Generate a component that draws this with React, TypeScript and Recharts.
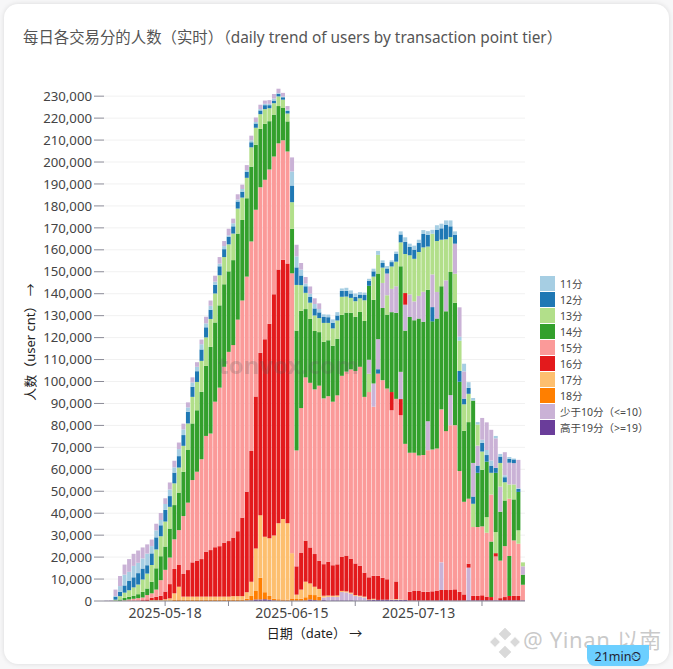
import { Bar, BarChart, CartesianGrid, Cell, Label, XAxis, YAxis } from "recharts";

const FONT = '"Noto Sans", "Noto Sans CJK SC", sans-serif';

const dates = [
  "2025-05-05", "2025-05-06", "2025-05-07", "2025-05-08", "2025-05-09", "2025-05-10", "2025-05-11", "2025-05-12", "2025-05-13", "2025-05-14",
  "2025-05-15", "2025-05-16", "2025-05-17", "2025-05-18", "2025-05-19", "2025-05-20", "2025-05-21", "2025-05-22", "2025-05-23", "2025-05-24",
  "2025-05-25", "2025-05-26", "2025-05-27", "2025-05-28", "2025-05-29", "2025-05-30", "2025-05-31", "2025-06-01", "2025-06-02", "2025-06-03",
  "2025-06-04", "2025-06-05", "2025-06-06", "2025-06-07", "2025-06-08", "2025-06-09", "2025-06-10", "2025-06-11", "2025-06-12", "2025-06-13",
  "2025-06-14", "2025-06-15", "2025-06-16", "2025-06-17", "2025-06-18", "2025-06-19", "2025-06-20", "2025-06-21", "2025-06-22", "2025-06-23",
  "2025-06-24", "2025-06-25", "2025-06-26", "2025-06-27", "2025-06-28", "2025-06-29", "2025-06-30", "2025-07-01", "2025-07-02", "2025-07-03",
  "2025-07-04", "2025-07-05", "2025-07-06", "2025-07-07", "2025-07-08", "2025-07-09", "2025-07-10", "2025-07-11", "2025-07-12", "2025-07-13",
  "2025-07-14", "2025-07-15", "2025-07-16", "2025-07-17", "2025-07-18", "2025-07-19", "2025-07-20", "2025-07-21", "2025-07-22", "2025-07-23",
  "2025-07-24", "2025-07-25", "2025-07-26", "2025-07-27", "2025-07-28", "2025-07-29", "2025-07-30", "2025-07-31", "2025-08-01", "2025-08-02",
  "2025-08-03", "2025-08-04", "2025-08-05",
];

// users per day, in thousands
const low = [
  0.2, 0.3, 2.9, 4.6, 4.6, 5.8, 5.5, 5.6, 5, 4.2,
  3, 3, 3.2, 2.6, 3.2, 3, 3, 2.6, 2.3, 2.3,
  2.1, 2.1, 3, 2.4, 2.7, 3, 2.3, 3, 2.1, 2.4,
  2, 2.3, 2.1, 2.1, 2, 1.5, 1.7, 2.1, 2, 1.7,
  1.7, 6.4, 5.3, 3, 3, 3.3, 2.6, 2.6, 1.2, 1.7,
  1.6, 1.6, 3.8, 3.6, 3, 2.1, 1.9, 1.5, 6.4, 10.6,
  13.7, 11.4, 9.9, 10.6, 12.1, 12.4, 11.8, 10.3, 8.6, 10.3,
  13.7, 13.2, 14.9, 12.1, 12.6, 14.1, 13.7, 13.7, 13.4, 12.4,
  14.9, 15.3, 9.1, 9.9, 12.6, 14, 13.4, 11.4, 10.5, 9.9,
  9.7, 12.9, 3.8,
];
const t11 = [
  0, 0, 0.3, 2.6, 4.9, 4.2, 5.2, 4.7, 4.6, 5.3,
  3.3, 3.2, 2.4, 2.7, 3, 2.4, 3.2, 2.6, 2, 2,
  2, 2.4, 1.8, 1.8, 1.5, 1.2, 1.4, 0.6, 1.4, 0.9,
  1.2, 0.8, 0.9, 0.6, 0.6, 0.6, 0.6, 0.9, 0.3, 0.3,
  0.5, 6.4, 5, 2.7, 1.2, 1.5, 2, 1.5, 1.2, 1.2,
  1.5, 1.5, 1.1, 1.4, 1.4, 1.5, 1.1, 1.1, 0.9, 1.2,
  1.8, 1.2, 1.1, 0.8, 1.1, 1.4, 2.1, 1.5, 1.8, 1.5,
  1.8, 1.7, 1.8, 2, 2.1, 2.1, 2.7, 1.5, 1.8, 3.5,
  2.6, 1.2, 1.1, 1.5, 2.3, 2.3, 1.1, 1.2, 0.9, 0.8,
  0.4, 0.3, 0,
];
const t12 = [
  0, 0, 1.4, 2, 3.3, 4.2, 4.6, 5.2, 5, 3.8,
  5.3, 5.5, 5, 5.3, 4.9, 4.9, 5.2, 4.9, 5.3, 4.6,
  4.9, 5.2, 4.6, 4.2, 3.9, 4.1, 3.6, 3.5, 3.3, 3.2,
  2.7, 2.7, 2.3, 2, 1.7, 1.8, 1.4, 1.2, 1.2, 1.1,
  1.2, 7.6, 8, 4.4, 3, 2.6, 3.2, 2.6, 2.7, 2.6,
  2.6, 2.3, 2.7, 2.6, 2, 2, 1.7, 2.4, 2.3, 2.4,
  2, 2.1, 2.3, 2, 3.5, 3.6, 5.5, 3.8, 4.2, 4.1,
  6.1, 5.3, 6.5, 5.2, 5.2, 6.5, 4.9, 4.1, 4.9, 2.6,
  2.7, 3.3, 3.3, 3.9, 3, 3.3, 2.3, 2.9, 2.3, 1.8,
  1.7, 1.4, 0,
];
const t13 = [
  0, 0, 0.4, 1.5, 2.4, 3, 3.8, 4.4, 5.6, 6.8,
  7.6, 8.6, 9.1, 11.4, 9.9, 9.9, 11.4, 11.8, 12.1, 12.1,
  12.9, 14.1, 13, 12.7, 13.2, 13.7, 12.4, 12.3, 12.1, 11.4,
  10.2, 9.3, 8.8, 7.7, 6.7, 6.7, 5.9, 5.2, 4.4, 3.8,
  3.6, 12.1, 20.8, 11.7, 7.4, 7.4, 7.1, 6.4, 8.6, 7.9,
  7.9, 8.3, 8.2, 7.3, 6.8, 7.1, 6.2, 9.4, 8.3, 10.6,
  8.5, 7, 8.8, 10.2, 11.2, 10.9, 17.8, 17.8, 19.4, 20,
  20.2, 19.7, 18.5, 23.2, 21.2, 18.7, 15.9, 13.2, 13.8, 12.1,
  12.9, 10.6, 9.6, 8.3, 7.1, 9.9, 9.6, 10.8, 8.3, 6.5,
  6.8, 6.1, 1.8,
];
const t14 = [
  0, 0, 0.2, 0.6, 1.1, 1.2, 1.4, 1.8, 2.6, 3,
  5.3, 9.7, 10.9, 10.6, 13.2, 15.6, 17.1, 20.2, 24, 25.8,
  28, 30.7, 31.9, 39.5, 36.1, 37.5, 37.6, 36.7, 38.7, 39.2,
  36.7, 35.7, 34.1, 29.7, 26.6, 25.5, 22, 19.1, 17, 14.7,
  13.7, 20.3, 54.6, 44.3, 31.1, 29.1, 26.6, 24.4, 25.8, 25.5,
  25.5, 25.8, 27.8, 26.9, 25.8, 24.7, 25, 34.6, 33.7, 38.1,
  29.9, 32.9, 33.7, 36.4, 39.2, 48.1, 51.6, 61.9, 60.4, 62.4,
  60.7, 59.9, 58.4, 59.2, 56.1, 54.6, 56.1, 55.8, 40.7, 32.3,
  34.9, 28.4, 24.7, 25.8, 25.3, 25.3, 27, 22.3, 20.8, 18.2,
  18.7, 17.5, 4.6,
];
const t15 = [
  0, 0, 0, 0.1, 0.3, 0.7, 1, 1.1, 1.2, 2,
  2, 3.3, 7.1, 9.9, 12.1, 13.5, 15.9, 26.4, 30.7, 37.5,
  40.5, 45.5, 52.7, 53.1, 66.3, 72.2, 80.1, 86.2, 87.7, 96.4,
  98.9, 98, 95.5, 85, 75.4, 72.6, 70.3, 62.8, 57.5, 54.5,
  51, 127.5, 52.8, 66, 74.4, 75, 75, 79.7, 75.5, 75.4,
  74.5, 77, 82.5, 83.8, 86.2, 87.7, 90.6, 80.1, 84.4, 77,
  92.1, 90, 86.9, 86.2, 83.2, 84, 71.1, 63.3, 62.9, 61.7,
  62.3, 64.5, 64.6, 64.9, 69.7, 72.4, 75.1, 74.8, 55, 42.2,
  29.6, 31.4, 31.4, 31.4, 29.1, 21.4, 20, 17.1, 23.2, 26.1,
  25.3, 23.8, 7.1,
];
const t16 = [
  0, 0, 0, 0, 0, 0, 0, 0.2, 0.4, 0.7,
  1.1, 1.5, 2, 3.5, 6.5, 11.1, 9.9, 10.3, 12.1, 15.6,
  16.4, 17.1, 20.5, 21.2, 22.5, 23, 24.6, 25.3, 26.7, 29.6,
  35.8, 45.8, 59.5, 69.3, 74, 90, 97.7, 109.9, 115.6, 118,
  118.4, 0, 12.9, 16.7, 18.7, 16.4, 14.9, 12.9, 14.4, 15.4,
  13.9, 14.2, 15.5, 16.3, 15.5, 14.4, 13.7, 10.9, 10.1, 10.5,
  11, 10, 9.3, 8.3, 8, 7.3, 5.3, 4, 4.4, 4.4,
  4, 4, 4.2, 4.4, 4.6, 4.8, 4.8, 5.1, 4, 2.8,
  1.8, 2, 2, 2.3, 1.7, 1.5, 1.5, 1, 1.5, 2,
  2, 2, 0,
];
const t17 = [
  0, 0, 0, 0, 0, 0, 0, 0, 0, 0,
  0.4, 0.4, 0.4, 0.8, 1.2, 3, 5.8, 1.5, 1.5, 1.5,
  1.5, 1.5, 1.5, 1.5, 1.5, 1.5, 1.5, 1.5, 1.7, 1.7,
  1.7, 3, 6.5, 19.3, 28.5, 25.3, 26.3, 28.8, 34.6, 36.7,
  34.8, 20.9, 2, 4.2, 7.1, 5, 3.8, 3.5, 0.8, 0.6,
  0.5, 0.6, 0.5, 0.5, 0.5, 0.4, 0.4, 0.4, 0.3, 0.4,
  0, 0, 0, 0.2, 0.3, 0.2, 0, 0, 0, 0,
  0, 0, 0, 0, 0, 0, 0, 0, 0, 0,
  0, 0, 0, 0, 0, 0, 0, 0, 0, 0,
  0, 0, 0,
];
const t18 = [
  0, 0, 0, 0, 0, 0, 0, 0, 0, 0,
  0, 0, 0, 0, 0, 0.5, 0.7, 0.5, 0.5, 0.5,
  0.5, 0.5, 0.5, 0.5, 0.5, 0.5, 0.5, 0.5, 0.5, 0.5,
  0.5, 0.8, 2, 3.9, 9.9, 3.2, 1.7, 0.7, 0.7, 0.6,
  0.5, 0.8, 0.8, 0.9, 1.5, 2.3, 2.3, 1.8, 0, 0,
  0, 0, 0, 0, 0, 0, 0, 0, 0, 0,
  0, 0, 0, 0, 0, 0, 0, 0, 0, 0,
  0, 0, 0, 0, 0, 0, 0, 0, 0, 0,
  0, 0, 0, 0, 0, 0, 0, 0, 0, 0,
  0, 0, 0,
];
const high = [
  0, 0, 0, 0, 0, 0, 0, 0, 0, 0,
  0, 0, 0, 0, 0, 0, 0, 0, 0, 0,
  0, 0, 0, 0, 0, 0, 0, 0, 0, 0,
  0, 0.2, 0.3, 0.7, 0.7, 0.8, 0.6, 0.3, 0.1, 0.1,
  0.1, 0.1, 0.1, 0.1, 0.2, 0.7, 0.4, 0.2, 0.4, 0.2,
  0.3, 0.3, 0.3, 0.3, 0.3, 0.2, 0.1, 0.1, 0.4, 0.6,
  0.5, 0.6, 0.6, 0.5, 0.6, 0.5, 0.5, 0.2, 0.2, 0.2,
  0.2, 0.2, 0.2, 0.2, 0.4, 0.2, 0.2, 0.2, 0.2, 0.2,
  0.3, 0.3, 0.3, 0.3, 0.3, 0.3, 0.3, 0.3, 0.3, 0.3,
  0.3, 0.3, 0.3,
];

const tiers = [
  { key: "11", label: "11分", color: "#a6cee3", values: t11 },
  { key: "12", label: "12分", color: "#1f78b4", values: t12 },
  { key: "13", label: "13分", color: "#b2df8a", values: t13 },
  { key: "14", label: "14分", color: "#33a02c", values: t14 },
  { key: "15", label: "15分", color: "#fb9a99", values: t15 },
  { key: "16", label: "16分", color: "#e31a1c", values: t16 },
  { key: "17", label: "17分", color: "#fdbf6f", values: t17 },
  { key: "18", label: "18分", color: "#ff7f00", values: t18 },
  { key: "low", label: "少于10分（<=10）", color: "#cab2d6", values: low },
  { key: "high", label: "高于19分（>=19）", color: "#6a3d9a", values: high },
];

// the source stacks each day in its own order, bottom to top
const DEFAULT_ORDER = "high 18 17 16 15 14 13 12 11 low";
const MID_ORDER = "high 16 15 14 low 13 12 11";
const orderOverrides: Record<number, string> = {
  48: "high 18 low 17 16 15 14 13 12 11", 49: "high 18 low 17 16 15 14 13 12 11",
  50: "high 18 low 17 16 15 14 13 12 11", 51: "high 18 low 17 16 15 14 13 12 11",
  52: "high 18 low 17 16 15 14 13 12 11", 53: "high 18 low 17 16 15 14 13 12 11",
  54: "high 18 low 17 16 15 14 13 12 11", 55: "high 18 low 17 16 15 14 13 12 11",
  56: "high 18 low 17 16 15 14 13 12 11", 57: "high 18 low 17 16 15 14 13 12 11",
  58: "high 17 16 15 13 low 14 12 11",
  59: "high 17 16 15 low 14 13 12 11",
  60: "high 16 15 12 low 14 13 11",
  61: MID_ORDER,
  62: "high 16 15 14 13 low 12 11",
  63: "high 17 15 16 14 low 13 12 11",
  64: "high 17 16 15 14 low 13 12 11",
  65: "high 17 15 16 low 14 13 12 11",
  66: "high 15 14 low 16 13 12 11",
  67: MID_ORDER, 68: MID_ORDER, 69: MID_ORDER, 70: MID_ORDER,
  71: "high 16 15 low 14 13 12 11",
  72: "high 16 15 14 12 low 13 11",
  73: MID_ORDER,
  74: "high 16 low 15 14 13 12 11",
  75: MID_ORDER,
  76: "high 16 15 low 14 13 12 11",
  77: "high 16 15 14 13 low 12 11",
  78: "high 16 15 14 12 13 11 low",
  79: "high 16 15 14 13 12 low 11",
  80: "high low 16 15 14 13 12 11",
  81: "high 16 15 13 12 low 14 11",
  82: "high 16 15 14 12 low 13 11",
  83: "high 16 15 14 13 12 11 low",
  84: "high 16 15 13 14 12 11 low",
  85: "high 16 14 15 13 12 11 low",
  86: "high 15 16 13 14 12 low 11",
  87: MID_ORDER,
  88: "high 16 15 14 13 12 11 low",
  89: "high 16 14 15 13 low 12 11",
  90: "high 16 15 14 13 low 12 11",
  91: "high 16 15 13 14 12 11 low",
  92: "high 15 14 low 13",
};

const yTicks = [
  0, 10000, 20000, 30000, 40000, 50000, 60000, 70000, 80000, 90000, 100000, 110000,
  120000, 130000, 140000, 150000, 160000, 170000, 180000, 190000, 200000, 210000, 220000, 230000,
];
const xTicks = ["2025-05-18", "2025-06-01", "2025-06-15", "2025-06-29", "2025-07-13", "2025-07-27"];
const xLabels = ["2025-05-18", "2025-06-15", "2025-07-13"];

const slots = tiers.map((_, n) => `s${n}`);

function dayOrder(day: number) {
  return (orderOverrides[day] ?? DEFAULT_ORDER).split(" ");
}

const chartData = dates.map((date, day) => {
  const row: Record<string, string | number> = { date };
  dayOrder(day).forEach((key, n) => {
    const tier = tiers.find((t) => t.key === key)!;
    row[`s${n}`] = tier.values[day] * 1000;
  });
  return row;
});

function slotColor(day: number, n: number) {
  const key = dayOrder(day)[n];
  return tiers.find((t) => t.key === key)?.color ?? "#ffffff";
}

export default function App() {
  return (
    <div style={{ position: "fixed", left: 0, top: 0, width: 673, height: 669, background: "#f7f7f8", overflow: "hidden", fontFamily: FONT }}>
      <div
        style={{
          position: "absolute",
          left: 4,
          top: 4,
          width: 665,
          height: 660,
          borderRadius: 14,
          background: "#fff",
          boxShadow: "0 0 5px rgba(0,0,0,0.12)",
        }}
      />
      <div style={{ position: "absolute", left: 23, top: 25, fontSize: 15.4, color: "#555", whiteSpace: "nowrap" }}>
        每日各交易分的人数（实时）（daily trend of users by transaction point tier）
      </div>

      <div style={{ position: "absolute", left: 0, top: 0 }}>
        <BarChart
          width={673}
          height={669}
          data={chartData}
          margin={{ top: 83, right: 148, bottom: 0, left: 0 }}
          barCategoryGap="10%"
        >
          <CartesianGrid vertical={false} stroke="#f1f1f1" horizontalValues={yTicks} />
          <XAxis
            dataKey="date"
            ticks={xTicks}
            interval={0}
            height={68}
            stroke="#8a8a96"
            tickSize={5}
            tickMargin={2}
            tick={{ fontSize: 14, fill: "#444" }}
            tickFormatter={(d: string) => (xLabels.includes(d) ? d : "")}
          >
            <Label value="日期（date）  →" position="insideTop" offset={28} style={{ fontSize: 13, fill: "#222" }} />
          </XAxis>
          <YAxis
            width={104}
            domain={[0, 236000]}
            ticks={yTicks}
            interval={0}
            axisLine={false}
            stroke="#8a8a96"
            tickSize={10}
            tickMargin={2}
            tick={{ fontSize: 13.2, fill: "#444" }}
            tickFormatter={(v: number) => v.toLocaleString("en-US")}
          >
            <Label value="人数（user cnt）  →" angle={-90} position="insideLeft" offset={30} style={{ fontSize: 13, fill: "#222", textAnchor: "middle" }} />
          </YAxis>
          {slots.map((slot, n) => (
            <Bar key={slot} dataKey={slot} stackId="a" isAnimationActive={false}>
              {chartData.map((row, day) => (
                <Cell key={row.date as string} fill={slotColor(day, n)} />
              ))}
            </Bar>
          ))}
        </BarChart>
      </div>

      <div style={{ position: "absolute", left: 540, top: 275 }}>
        {tiers.map((tier) => (
          <div key={tier.key} style={{ display: "flex", alignItems: "center", height: 16 }}>
            <span style={{ width: 15, height: 15, background: tier.color, marginRight: 5 }} />
            <span style={{ fontSize: 10.5, color: "#444", whiteSpace: "nowrap" }}>{tier.label}</span>
          </div>
        ))}
      </div>

      <div style={{ position: "absolute", left: 218, top: 348, fontSize: 24, fontWeight: 700, color: "rgba(90,90,90,0.24)", whiteSpace: "nowrap" }}>
        tonvox.com
      </div>

      <svg width={30} height={30} style={{ position: "absolute", left: 490, top: 628 }}>
        <g fill="#d9d9d9" stroke="#fff" strokeWidth={1}>
          <rect x={10} y={1} width={10} height={10} transform="rotate(45 15 6)" />
          <rect x={1} y={10} width={8} height={8} transform="rotate(45 5 14)" />
          <rect x={21} y={10} width={8} height={8} transform="rotate(45 25 14)" />
          <rect x={10} y={19} width={10} height={10} transform="rotate(45 15 24)" />
        </g>
      </svg>
      <div style={{ position: "absolute", left: 523, top: 628, fontSize: 22, lineHeight: "22px", letterSpacing: 0.6, color: "rgba(165,165,165,0.6)", whiteSpace: "nowrap" }}>
        @ Yinan 以南
      </div>
      <div
        style={{
          position: "absolute",
          left: 587,
          top: 645,
          width: 62,
          height: 21,
          borderRadius: "0 0 8px 8px",
          background: "#6ccfff",
        }}
      />
      <div style={{ position: "absolute", left: 587, top: 650, width: 62, textAlign: "center", color: "#223", fontSize: 12.5, lineHeight: "13px" }}>
        21min⏲
      </div>
    </div>
  );
}
